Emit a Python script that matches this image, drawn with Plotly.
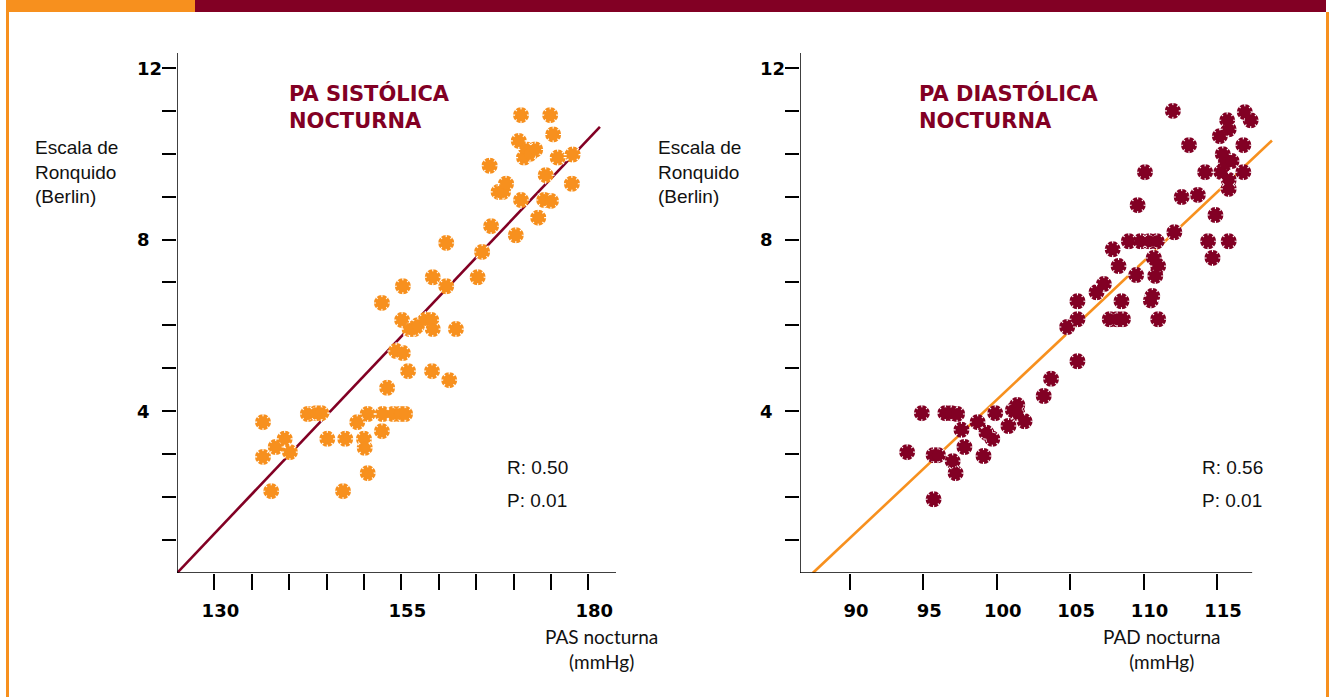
import plotly.graph_objects as go

W, H = 1329, 697
ORANGE = "#F7901E"
MAROON = "#820024"

# ---------------- data ----------------
pas_x = [136.5, 136.5, 137.6, 138.2, 139.4, 140.1, 142.5, 143.6, 144.3, 145.1,
         147.2, 147.5, 149.1, 150.0, 150.1, 150.5, 150.5, 152.4, 152.5, 153.1,
         152.4, 153.9, 154.8, 155.5, 154.3, 155.2, 155.2, 155.1, 155.9, 156.1,
         156.7, 157.2, 158.2, 159.0, 159.1, 159.2, 159.2, 161.0, 161.0, 161.4,
         162.3, 165.2, 165.8, 167.0, 166.8, 168.0, 168.6, 169.0, 170.3, 171.0,
         170.7, 171.0, 171.4, 171.7, 172.2, 172.9, 173.3, 174.1, 174.3, 174.9,
         175.0, 175.3, 175.9, 177.9, 177.8]
pas_y = [3.74, 2.93, 2.13, 3.16, 3.35, 3.04, 3.93, 3.95, 3.95, 3.35,
         2.13, 3.35, 3.74, 3.35, 3.14, 3.93, 2.55, 3.53, 3.93, 4.54,
         6.52, 3.93, 3.93, 3.93, 5.40, 5.35, 6.91, 6.12, 4.93, 5.91,
         5.91, 6.00, 6.12, 6.12, 4.93, 7.12, 5.91, 7.92, 6.91, 4.72,
         5.91, 7.12, 7.71, 8.31, 9.72, 9.11, 9.11, 9.30, 8.10, 10.90,
         10.30, 8.92, 9.91, 10.10, 10.00, 10.10, 8.51, 8.92, 9.50, 10.90,
         8.90, 10.45, 9.91, 9.98, 9.30]

pad_x = [93.9, 94.9, 95.7, 95.7, 96.0, 96.5, 96.9, 97.3, 97.0, 97.2,
         97.6, 97.8, 98.7, 99.1, 99.3, 99.7, 99.9, 100.8, 101.1, 101.4,
         101.4, 101.9, 103.2, 103.7, 104.8, 105.5, 105.5, 105.5, 106.8, 107.3,
         107.7, 107.9, 108.2, 108.3, 108.5, 108.6, 109.0, 109.5, 109.6, 109.8,
         110.1, 110.4, 110.5, 110.6, 110.7, 110.9, 110.8, 111.0, 111.0, 112.0,
         112.1, 112.6, 113.1, 113.7, 114.2, 114.4, 114.7, 114.9, 115.2, 115.3,
         115.4, 115.7, 115.8, 115.6, 115.8, 115.8, 115.8, 116.0, 116.8, 116.9,
         117.3, 116.8]
pad_y = [3.04, 3.95, 1.94, 2.97, 2.97, 3.95, 3.95, 3.93, 2.83, 2.55,
         3.56, 3.16, 3.74, 2.95, 3.49, 3.35, 3.95, 3.65, 4.02, 4.14,
         3.95, 3.76, 4.35, 4.75, 5.96, 6.56, 6.14, 5.16, 6.77, 6.96,
         6.14, 7.77, 6.14, 7.38, 6.56, 6.14, 7.96, 7.17, 8.80, 7.96,
         9.57, 7.96, 6.58, 6.68, 7.57, 7.96, 7.15, 7.38, 6.14, 11.00,
         8.17, 8.99, 10.20, 9.04, 9.57, 7.96, 7.57, 8.57, 10.41, 9.57,
         9.99, 10.78, 10.57, 9.78, 9.18, 9.39, 7.96, 9.83, 10.20, 10.97,
         10.78, 9.57]

# regression lines (start x, end x, start y, slope)
pas_fit_x = [125.0, 181.55]
pas_fit_y0, pas_fit_slope = 0.22, 0.184
pad_fit_x = [87.47, 118.75]
pad_fit_y0, pad_fit_slope = 0.22, 0.3225

# axes / ticks
y_ticks = list(range(1, 13))
y_labels = ["4", "8", "12"]
pas_ticks = list(range(130, 181, 5))
pas_labels = ["130" if v == 130 else "155" if v == 155 else "180" if v == 180 else "" for v in pas_ticks]
pad_ticks = list(range(90, 116, 5))
pad_labels = [str(v) for v in pad_ticks]

titles = ["PA SISTÓLICA<br>NOCTURNA", "PA DIASTÓLICA<br>NOCTURNA"]
y_title = "Escala de<br>Ronquido<br>(Berlin)"
x_titles = ["PAS nocturna<br>(mmHg)", "PAD nocturna<br>(mmHg)"]
stats = [["R: 0.50", "P: 0.01"], ["R: 0.56", "P: 0.01"]]

# ---------------- figure ----------------
def px(x):
    return x / W

def py(y):
    return 1 - y / H

fig = go.Figure()

def add_points(xs, ys, color, xa, ya):
    fig.add_trace(go.Scatter(x=xs, y=ys, mode="markers", xaxis=xa, yaxis=ya,
                             marker=dict(symbol="circle", size=16, color=color, line=dict(width=0)),
                             hoverinfo="skip", showlegend=False))
    fig.add_trace(go.Scatter(x=xs, y=ys, mode="markers", xaxis=xa, yaxis=ya,
                             marker=dict(symbol="asterisk-open", size=15, color="white",
                                         line=dict(width=1.1, color="white")),
                             hoverinfo="skip", showlegend=False))
    fig.add_trace(go.Scatter(x=xs, y=ys, mode="markers", xaxis=xa, yaxis=ya,
                             marker=dict(symbol="circle", size=12, color=color, line=dict(width=0)),
                             hoverinfo="skip", showlegend=False))

def add_fit(xr, y0, slope, color, xa, ya):
    ys = [y0 + slope * (x - xr[0]) for x in xr]
    fig.add_trace(go.Scatter(x=xr, y=ys, mode="lines", xaxis=xa, yaxis=ya,
                             line=dict(color=color, width=2.6),
                             hoverinfo="skip", showlegend=False))

add_fit(pas_fit_x, pas_fit_y0, pas_fit_slope, MAROON, "x", "y")
add_points(pas_x, pas_y, ORANGE, "x", "y")
add_fit(pad_fit_x, pad_fit_y0, pad_fit_slope, ORANGE, "x2", "y2")
add_points(pad_x, pad_y, MAROON, "x2", "y2")

y_range = [0.2216, 12.35]
tickfont = dict(family="DejaVu Sans", size=18, color="black", weight="bold")

common_y = dict(range=y_range, domain=[py(573), py(53)], showgrid=False, zeroline=False,
                showline=False, ticks="outside", ticklen=14, tickwidth=1.5, tickcolor="black",
                tickvals=y_ticks, ticktext=["" for _ in y_ticks], fixedrange=True)
common_x = dict(showgrid=False, zeroline=False, showline=False, ticks="outside",
                ticklen=16, tickwidth=1.5, tickcolor="black", tickfont=tickfont,
                ticklabelshift=6, ticklabelstandoff=5, fixedrange=True)

fig.update_layout(
    width=W, height=H, margin=dict(l=0, r=0, t=0, b=0),
    paper_bgcolor="white", plot_bgcolor="white",
    xaxis=dict(domain=[px(177), px(616)], range=[125, 183.7], anchor="y",
               tickvals=pas_ticks, ticktext=pas_labels, **common_x),
    yaxis=dict(anchor="x", **common_y),
    xaxis2=dict(domain=[px(800), px(1280)], range=[86.6, 86.6 + 480 / 14.68], anchor="y2",
                tickvals=pad_ticks, ticktext=pad_labels, **common_x),
    yaxis2=dict(anchor="x2", **common_y),
)

shapes = []
# frame
shapes.append(dict(type="rect", xref="paper", yref="paper", x0=px(6), x1=px(195), y0=py(12), y1=1,
                   fillcolor=ORANGE, line=dict(width=0)))
shapes.append(dict(type="rect", xref="paper", yref="paper", x0=px(195), x1=px(1326), y0=py(12), y1=1,
                   fillcolor=MAROON, line=dict(width=0)))
shapes.append(dict(type="rect", xref="paper", yref="paper", x0=px(6), x1=px(9), y0=0, y1=py(12),
                   fillcolor=ORANGE, line=dict(width=0)))
shapes.append(dict(type="rect", xref="paper", yref="paper", x0=px(1326), x1=1, y0=0, y1=py(12),
                   fillcolor=ORANGE, line=dict(width=0)))
# axis lines
for xa, ya, xr in [("x", "y", [125, 183.7]), ("x2", "y2", [86.6, 117.4])]:
    shapes.append(dict(type="line", xref=xa, yref=ya, x0=xr[0], x1=xr[0], y0=y_range[0], y1=y_range[1],
                       line=dict(color="black", width=1.5)))
    shapes.append(dict(type="line", xref=xa, yref=ya, x0=xr[0], x1=xr[1], y0=y_range[0], y1=y_range[0],
                       line=dict(color="black", width=1.5)))
fig.update_layout(shapes=shapes)

ann = []
for i, off in enumerate([0, 623]):
    ya = "y" if i == 0 else "y2"
    # y tick labels (left aligned)
    for lab in y_labels:
        ann.append(dict(xref="paper", yref=ya, x=px(135 + off), y=float(lab), text=lab,
                        xanchor="left", yanchor="middle", showarrow=False,
                        font=dict(family="DejaVu Sans", size=18, color="black", weight="bold")))
    # y title
    ann.append(dict(xref="paper", yref="paper", x=px(33 + off), y=py(172), text=y_title,
                    xanchor="left", yanchor="middle", align="left", showarrow=False,
                    font=dict(family="Liberation Sans", size=19, color="#111")))
    # panel title
    ann.append(dict(xref="paper", yref="paper", x=px(287 + (630 if i else 0)), y=py(107), text=titles[i],
                    xanchor="left", yanchor="middle", align="left", showarrow=False,
                    font=dict(family="DejaVu Sans", size=21, color=MAROON, weight="bold")))
    # stats
    sx = 505 if i == 0 else 1200
    for j, s in enumerate(stats[i]):
        ann.append(dict(xref="paper", yref="paper", x=px(sx), y=py(467 + 33 * j), text=s,
                        xanchor="left", yanchor="middle", showarrow=False,
                        font=dict(family="Liberation Sans", size=19, color="#111")))
    # x title
    tx = 601 if i == 0 else 1161
    ann.append(dict(xref="paper", yref="paper", x=px(tx), y=py(649), text=x_titles[i],
                    xanchor="center", yanchor="middle", align="center", showarrow=False,
                    font=dict(family="Lato", size=19, color="#111")))
fig.update_layout(annotations=ann)

fig.write_html("out.html", config={"displayModeBar": False},
               post_script="document.body.style.margin='0';document.body.style.overflow='hidden';")
